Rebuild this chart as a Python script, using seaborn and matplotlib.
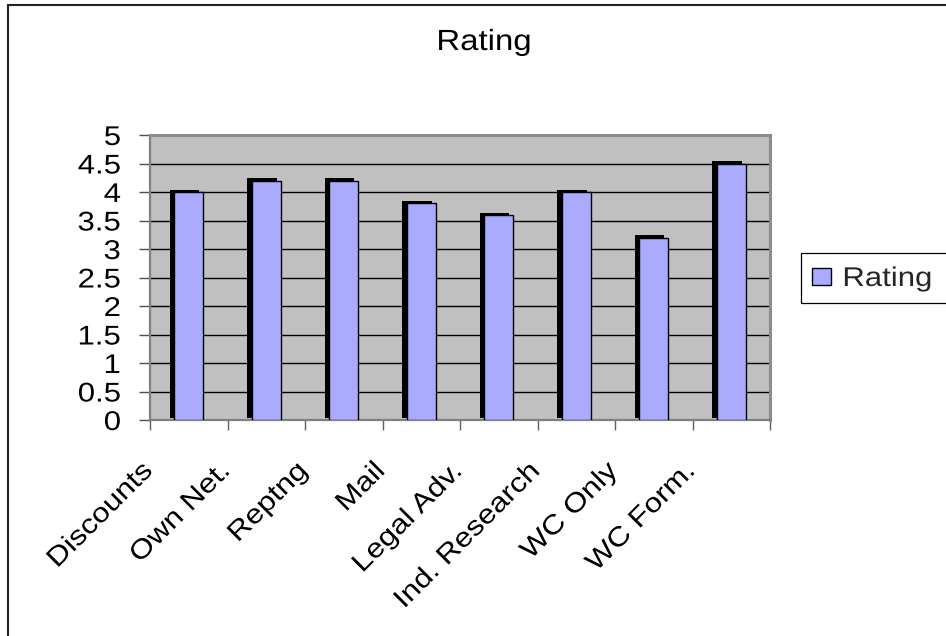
import matplotlib
matplotlib.use("Agg")
import matplotlib.pyplot as plt
import matplotlib.patheffects as pe
import matplotlib.transforms as mtransforms
from matplotlib.patches import Rectangle, Patch
import seaborn as sns
import pandas as pd
import numpy as np

categories = ["Discounts", "Own Net.", "Reptng", "Mail", "Legal Adv.",
              "Ind. Research", "WC Only", "WC Form."]
ratings = [4.0, 4.2, 4.2, 3.8, 3.6, 4.0, 3.2, 4.5]
y_ticks = [0, 0.5, 1, 1.5, 2, 2.5, 3, 3.5, 4, 4.5, 5]
y_tick_labels = ["0", "0.5", "1", "1.5", "2", "2.5", "3", "3.5", "4", "4.5", "5"]
series_name = "Rating"
chart_title = "Rating"

df = pd.DataFrame({"category": categories, "rating": ratings})

sns.set_theme(style="white")
plt.rcParams["font.family"] = ["Liberation Sans", "DejaVu Sans"]


class StretchX(pe.AbstractPathEffect):
    """Widen glyphs horizontally in the text's own frame around a pivot."""

    def __init__(self, sx, pivot="left"):
        super().__init__()
        self.sx = sx
        self.pivot = pivot

    def draw_path(self, renderer, gc, tpath, affine, rgbFace=None):
        if len(tpath.vertices) == 0:
            return
        ext = tpath.get_extents()
        px = {"left": 0.0, "right": ext.x1,
              "center": 0.5 * (ext.x0 + ext.x1)}[self.pivot]
        t = (mtransforms.Affine2D().translate(-px, 0).scale(self.sx, 1)
             .translate(px, 0) + affine)
        renderer.draw_path(gc, tpath, t, rgbFace)


SX = 1.15
FS = 19.5

W, H = 946, 636
fig = plt.figure(figsize=(W / 100, H / 100), dpi=100)
ax = fig.add_axes([150 / W, 1 - 420 / H, 620 / W, 285 / H])

bar_color = "#AAAAFF"
sns.barplot(data=df, x="category", y="rating", color=bar_color,
            width=0.38, edgecolor="black", linewidth=1.0, saturation=1,
            ax=ax, zorder=3)

for patch in ax.patches:
    patch.set_path_effects([
        pe.SimplePatchShadow(offset=(-2.9, 1.6), shadow_rgbFace="black", alpha=1.0),
        pe.Normal(),
    ])

ax.set_facecolor("#C0C0C0")
ax.set_xlim(-0.5, len(categories) - 0.5)
ax.set_ylim(0, 5)
ax.set_yticks(y_ticks)
ax.set_yticklabels(y_tick_labels)
ax.yaxis.grid(True, color="black", linewidth=1.0, zorder=0)
ax.set_axisbelow(True)
ax.set_xlabel("")
ax.set_ylabel("")

for side in ["left", "bottom"]:
    ax.spines[side].set_color("#808080")
    ax.spines[side].set_linewidth(1.6)
for side in ["top", "right"]:
    ax.spines[side].set_color("#8C8C8C")
    ax.spines[side].set_linewidth(2.2)

ax.tick_params(axis="y", which="major", left=True, length=8, width=1,
               color="#505050", labelsize=FS, pad=13, labelcolor="black")

# category boundary ticks on the x axis
ax.set_xticks(np.arange(-0.5, len(categories)), minor=True)
ax.tick_params(axis="x", which="minor", bottom=True, length=7, width=1,
               color="#606060")
ax.set_xticks(range(len(categories)))
ax.set_xticklabels(categories, rotation=45, ha="right", va="baseline",
                   rotation_mode="anchor", fontsize=FS, color="black")
ax.tick_params(axis="x", which="major", bottom=False, length=0, pad=0)
offset = mtransforms.ScaledTranslation(-35 / 100, -52 / 100, fig.dpi_scale_trans)
for lbl in ax.get_xticklabels():
    lbl.set_transform(lbl.get_transform() + offset)
    lbl.set_path_effects([StretchX(SX, "right")])
for lbl in ax.get_yticklabels():
    lbl.set_path_effects([StretchX(SX, "right")])

fig.text(484 / W, 1 - 50 / H, chart_title, ha="center", va="baseline",
         fontsize=21, color="black",
         path_effects=[StretchX(1.13, "center")])

handle = Patch(facecolor=bar_color, edgecolor="black", linewidth=1)
leg = fig.legend([handle], [series_name], loc="center left",
                 bbox_to_anchor=(812 / W, 1 - 279 / H), fontsize=FS,
                 frameon=False, handlelength=0.7, handleheight=0.63,
                 handletextpad=0.42, borderpad=0, borderaxespad=0)
for t in leg.get_texts():
    t.set_path_effects([StretchX(SX, "left")])

# legend frame runs off the right edge of the chart area
fig.add_artist(Rectangle((800.5 / W, 1 - 302.5 / H), 200 / W, 49.5 / H,
                         transform=fig.transFigure, fill=False,
                         edgecolor="black", linewidth=0.9))

# outer chart border
fig.add_artist(Rectangle((7.5 / W, -0.1), 1.2, 1.1 - 5 / H,
                         transform=fig.transFigure, fill=False,
                         edgecolor="#222222", linewidth=1.5))

fig.savefig("out.png", dpi=100, facecolor="white")
